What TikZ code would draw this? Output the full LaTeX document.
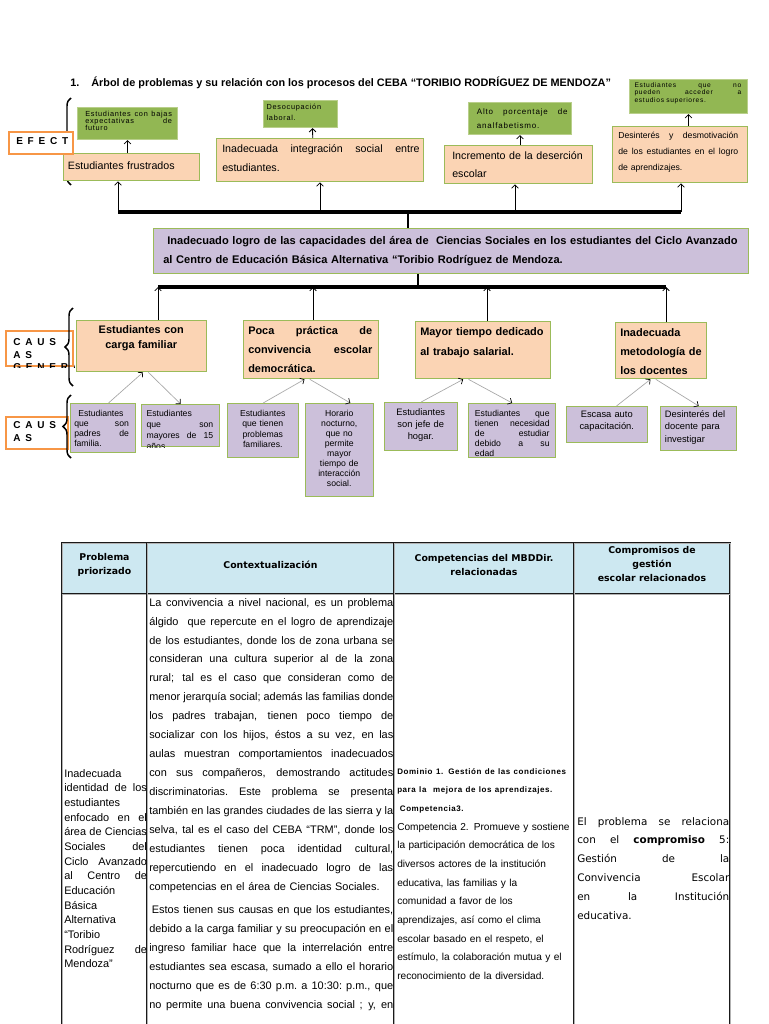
\documentclass[tikz,border=0pt]{standalone}
\usepackage{fontspec}
\setmainfont{Liberation Sans}
\newfontfamily\dvs{DejaVu Sans}
\newfontfamily\spc[LetterSpace=10]{Liberation Sans}
\newfontfamily\spcb[LetterSpace=7]{Liberation Sans}
\newfontfamily\lbs[LetterSpace=48]{Liberation Sans}
\usetikzlibrary{arrows.meta,decorations.pathreplacing,calc}

\definecolor{effill}{RGB}{251,212,180}
\definecolor{grnfill}{RGB}{146,183,83}
\definecolor{boxline}{RGB}{155,187,89}
\definecolor{purfill}{RGB}{204,192,218}
\definecolor{lblline}{RGB}{247,150,70}
\definecolor{hdfill}{RGB}{205,232,241}

\newdimen\jlw
\newcommand{\fs}[2]{\fontsize{#1}{#2}\selectfont}
\newcommand{\jl}[1]{\leavevmode\hbox to\jlw{\spaceskip=.28em plus 1fil\xspaceskip=.28em plus 1fil\relax #1}}
% style, name, x1, y1, x2, y2, text options, text
\newcommand{\probbox}[8]{%
  \pgfmathsetmacro{\tbW}{(#5-#3)*0.75}%
  \pgfmathsetmacro{\tbH}{(#6-#4)*0.75}%
  \pgfmathsetmacro{\tbT}{(#5-#3)*0.75-5}%
  \node[#1, anchor=north west, minimum width=\tbW pt, minimum height=\tbH pt, inner sep=0pt] (#2) at (#3,#4) {};
  \begin{scope}
    \clip (#2.north west) rectangle (#2.south east);
    \node[anchor=north west, inner sep=0pt, tw=\tbT pt, align=left, #7] (#2-txt)
      at ([shift={(2.5pt,-2pt)}]#2.north west) {\noindent #8};
  \end{scope}}

\tikzset{
  tw/.style={text width=#1, /utils/exec={\global\jlw=\dimexpr #1\relax}},
  effbox/.style={fill=effill, draw=boxline, line width=1pt},
  grnbox/.style={fill=grnfill, draw=boxline!70!white, line width=0.8pt},
  purbox/.style={fill=purfill, draw=boxline, line width=1pt},
  lblbox/.style={fill=white, draw=lblline, line width=1.5pt},
  upar/.style={-{Straight Barb[length=2.5pt,width=5pt]}, line width=0.6pt},
  subar/.style={-{Straight Barb[length=2.5pt,width=5pt,color=black]}, draw=gray!70, line width=0.5pt},
  bar/.style={line width=3pt},
  brc/.style={decorate, decoration={brace, amplitude=6pt}, line width=1.1pt},
  tline/.style={draw=black!90, double=gray!60, line width=0.6pt, double distance=0.7pt},
  hdtxt/.style={font={\dvs\bfseries\fs{7}{10.5}}, align=center, inner sep=0pt},
  coltxt/.style={anchor=north west, inner sep=0pt, align=left}
}

\begin{document}
\begin{tikzpicture}[x=0.75pt, y=-0.75pt]
  \useasboundingbox (0,0) rectangle (768,1024);
  \fill[white] (0,0) rectangle (768,1024);

  \node[anchor=base west, inner sep=0pt, font={\bfseries\fs{8.15}{10}}] (title) at (70,87)
    {1.\hspace{9pt}Árbol de problemas y su relación con los procesos del CEBA “TORIBIO RODRÍGUEZ DE MENDOZA”};

  % efectos
  \draw[brc] (71,185) -- (71,98);
  \probbox{grnbox}{g1}{77}{107}{177}{139}{font={\spc\fs{5.5}{5.3}}, yshift=-0.75pt, xshift=3.5pt, tw=65pt}
    {\jl{Estudiantes con bajas}\\ \jl{expectativas de}\\ futuro}
  \probbox{effbox}{e1}{63}{153}{199}{180}{font={\fs{8}{10}}, yshift=-4.2pt, xshift=1pt}{Estudiantes frustrados}
  \probbox{grnbox}{g2}{263}{100}{337}{127}{font={\spc\fs{5.5}{8.25}}, yshift=-0.75pt}{Desocupación\\ laboral.}
  \probbox{effbox}{e2}{216}{138}{423}{181}{font={\fs{8}{14.25}}, yshift=-2.7pt, xshift=2pt, tw=148pt}
    {\jl{Inadecuada integración social entre}\\ estudiantes.}
  \probbox{grnbox}{g3}{468}{102}{571}{134}{font={\spc\fs{6}{10.5}}, yshift=-2.6pt, xshift=4pt, tw=68pt}
    {\jl{Alto porcentaje de}\\ analfabetismo.}
  \probbox{effbox}{e3}{444}{145}{592}{183}{font={\fs{8}{13.5}}, yshift=-2.7pt, xshift=3.5pt}{Incremento de la deserción\\ escolar}
  \probbox{grnbox}{g4}{629}{79}{747}{113}{font={\spc\fs{5}{5.6}}, yshift=-0.4pt, xshift=1.5pt, tw=80pt}
    {\jl{Estudiantes que no}\\ \jl{pueden acceder a}\\ estudios superiores.}
  \probbox{effbox}{e4}{612}{126}{747}{182}{font={\fs{6.5}{12}}, yshift=-2.2pt, xshift=2pt, tw=90pt}
    {\jl{Desinterés y desmotivación}\\ \jl{de los estudiantes en el logro}\\ de aprendizajes.}
  \probbox{lblbox}{lef}{8}{131}{72}{153}{font={\lbs\bfseries\fs{7.5}{9}}, yshift=-3pt, xshift=3.5pt}{EFECT}

  \draw[upar] (g1.south |- e1.north) -- (g1.south);
  \draw[upar] ([xshift=-5.6pt]e2.north) -- ([xshift=9pt]g2.south);
  \draw[upar] (g3.south |- e3.north) -- (g3.south);
  \draw[upar] (g4.south |- e4.north) -- (g4.south);

  \coordinate (tb1) at (118,212);
  \coordinate (tb2) at (320,212);
  \coordinate (tb3) at (515,212);
  \coordinate (tb4) at (681,212);
  \coordinate (tbm) at (408,212);
  \draw[bar] (tb1) -- (tb4);
  \foreach \i in {1,...,4} \draw[upar] (tb\i) -- (tb\i |- e\i.south);

  % problema central
  \probbox{purbox}{core}{153}{228}{748}{273}{font={\bfseries\fs{8.3}{14.25}}, yshift=-3.9pt, xshift=5pt, tw=445pt}
    {\mbox{\hspace*{3pt}Inadecuado logro de las capacidades del área de\ \ Ciencias Sociales en los estudiantes del Ciclo Avanzado}\\
     al Centro de Educación Básica Alternativa “Toribio Rodríguez de Mendoza.}
  \draw[line width=0.8pt] (tbm) -- (tbm |- core.north);

  % causas
  \probbox{effbox}{c1}{76}{320}{206}{371}{font={\bfseries\fs{8.2}{11.25}}, align=center, yshift=-1.75pt}{Estudiantes con\\ carga familiar}
  \probbox{effbox}{c2}{243}{320}{378}{378}{font={\bfseries\fs{8.2}{14.25}}, yshift=-2.5pt, xshift=1.25pt, tw=93pt}
    {\jl{Poca práctica de}\\ \jl{convivencia escolar}\\ democrática.}
  \probbox{effbox}{c3}{415}{321}{550}{378}{font={\bfseries\fs{8.2}{15}}, yshift=-2.5pt, xshift=1.25pt}{Mayor tiempo dedicado\\ al trabajo salarial.}
  \probbox{effbox}{c4}{615}{322}{706}{378}{font={\bfseries\fs{8.2}{14.25}}, yshift=-2.5pt, xshift=1.25pt}{Inadecuada\\ metodología de\\ los docentes}

  \coordinate (lb1) at (158,287);
  \coordinate (lb2) at (313,287);
  \coordinate (lb3) at (487,287);
  \coordinate (lb4) at (666,287);
  \coordinate (lbm) at (418,287);
  \draw[bar] (lb1) -- (lb4);
  \draw[line width=0.8pt] (lbm |- core.south) -- (lbm);
  \foreach \i in {1,...,4} \draw[upar] (lb\i |- c\i.north) -- (lb\i);

  \probbox{lblbox}{lca1}{5}{330}{72}{365}{font={\lbs\bfseries\fs{7.5}{9.5}}, yshift=-4.3pt, xshift=3.5pt}{CAUS\\ AS\\ GENERA}
  \draw[brc] (73,386) -- (73,308);

  % causas especificas
  \probbox{purbox}{s1}{70}{403}{135}{452}{font={\fs{6.5}{7.5}}, yshift=-3pt, xshift=0.5pt, tw=41pt}
    {\hspace*{3pt}Estudiantes\\ \jl{que son}\\ \jl{padres de}\\ familia.}
  \probbox{purbox}{s2}{141}{404}{219}{446}{font={\fs{6.5}{8.25}}, yshift=-2.3pt, xshift=1.5pt, tw=50pt}
    {Estudiantes\\ \jl{que son}\\ \jl{mayores de 15}\\ años}
  \probbox{purbox}{s3}{227}{403}{298}{457}{font={\fs{6.5}{7.8}}, align=center, yshift=-3pt}{Estudiantes\\ que tienen\\ problemas\\ familiares.}
  \probbox{purbox}{s4}{305}{403}{373}{496}{font={\fs{6.5}{7.5}}, align=center, yshift=-3pt}
    {Horario\\ nocturno,\\ que no\\ permite\\ mayor\\ tiempo de\\ interacción\\ social.}
  \probbox{purbox}{s5}{384}{402}{457}{450}{font={\fs{7}{9}}, align=center, yshift=-2.6pt}{Estudiantes\\ son jefe de\\ hogar.}
  \probbox{purbox}{s6}{468}{403}{555}{457}{font={\fs{6.5}{7.5}}, yshift=-3pt, xshift=2.5pt, tw=56pt}
    {\jl{Estudiantes que}\\ \jl{tienen necesidad}\\ \jl{de estudiar}\\ \jl{debido a su}\\ edad}
  \probbox{purbox}{s7}{566}{406}{647}{442}{font={\fs{7}{9}}, align=center, yshift=-1.9pt}{Escasa auto\\ capacitación.}
  \probbox{purbox}{s8}{660}{406}{736}{450}{font={\fs{7}{9.4}}, yshift=-1.2pt, xshift=1pt}{Desinterés del\\ docente para\\ investigar}

  \draw[subar] ([xshift=4pt]s1.north) -- ([xshift=1pt]c1.south);
  \draw[subar] ([xshift=5pt]c1.south) -- (s2.north);
  \draw[subar] (s3.north) -- ([xshift=-5pt]c2.south);
  \draw[subar] ([xshift=-1pt]c2.south) -- ([xshift=8pt]s4.north);
  \draw[subar] (s5.north) -- ([xshift=-15pt]c3.south);
  \draw[subar] ([xshift=-11pt]c3.south) -- (s6.north);
  \draw[subar] ([xshift=7pt]s7.north) -- ([xshift=-8pt]c4.south);
  \draw[subar] ([xshift=-4pt]c4.south) -- (s8.north);

  \probbox{lblbox}{lca2}{5}{416}{67}{448}{font={\lbs\bfseries\fs{7.5}{9.75}}, yshift=-2.3pt, xshift=3.5pt}{CAUS\\ AS}
  \draw[brc] (71,458) -- (71,395);

  % tabla
  \fill[hdfill] (62,543) rectangle (730,594);
  \draw[tline] (62,1040) -- (62,543) -- (730,543) -- (730,1040);
  \draw[tline] (62,594) -- (730,594);
  \foreach \x in {147,394,574} \draw[tline] (\x,543) -- (\x,1040);

  \node[hdtxt] (h1) at (104.5,565) {Problema\\priorizado};
  \node[hdtxt] (h2) at (270.5,565) {Contextualización};
  \node[hdtxt] (h3) at (484,565) {Competencias del MBDDir.\\relacionadas};
  \node[hdtxt] (h4) at (652,564) {Compromisos de\\gestión\\escolar relacionados};

  \node[coltxt, tw=62pt, font={\fs{8.2}{11}}] (b1) at (64,769)
    {\noindent Inadecuada\\ \jl{identidad de los}\\ estudiantes\\ \jl{enfocado en el}\\ \jl{área de Ciencias}\\
     \jl{Sociales del}\\ \jl{Ciclo Avanzado}\\ \jl{al Centro de}\\ Educación\\ Básica\\ Alternativa\\
     “Toribio\\ \jl{Rodríguez de}\\ Mendoza”};

  \node[coltxt, tw=183pt, font={\fs{8.2}{14.2}}] (b2) at (149,598)
    {\noindent\jl{La convivencia a nivel nacional, es un problema}\\
     \jl{álgido\ \ que repercute en el logro de aprendizaje}\\
     \jl{de los estudiantes, donde los de zona urbana se}\\
     \jl{consideran una cultura superior al de la zona}\\
     \jl{rural; tal es el caso que consideran como de}\\
     \jl{menor jerarquía social; además las familias donde}\\
     \jl{los padres trabajan, tienen poco tiempo de}\\
     \jl{socializar con los hijos, éstos a su vez, en las}\\
     \jl{aulas muestran comportamientos inadecuados}\\
     \jl{con sus compañeros, demostrando actitudes}\\
     \jl{discriminatorias. Este problema se presenta}\\
     \jl{también en las grandes ciudades de las sierra y la}\\
     \jl{selva, tal es el caso del CEBA “TRM”, donde los}\\
     \jl{estudiantes tienen poca identidad cultural,}\\
     \jl{repercutiendo en el inadecuado logro de las}\\
     competencias en el área de Ciencias Sociales.\\[3.5pt]
     \jl{\hspace*{2pt}Estos tienen sus causas en que los estudiantes,}\\
     \jl{debido a la carga familiar y su preocupación en el}\\
     \jl{ingreso familiar hace que la interrelación entre}\\
     \jl{estudiantes sea escasa, sumado a ello el horario}\\
     \jl{nocturno que es de 6:30 p.m. a 10:30: p.m., que}\\
     \jl{no permite una buena convivencia social ; y, en}};

  \node[coltxt, tw=135pt, font={\fs{7.6}{14}}] (b3) at (397,768)
    {{\spcb\bfseries\fs{6}{14}Dominio 1. Gestión de las condiciones\\
      para la\ \ mejora de los aprendizajes.\\
      \hspace*{2pt}Competencia3.}\\
     Competencia 2. Promueve y sostiene\\
     la participación democrática de los\\
     diversos actores de la institución\\
     educativa, las familias y la\\
     comunidad a favor de los\\
     aprendizajes, así como el clima\\
     escolar basado en el respeto, el\\
     estímulo, la colaboración mutua y el\\
     reconocimiento de la diversidad.};

  \node[coltxt, tw=114pt, font={\dvs\fs{7.8}{14.1}}] (b4) at (577,817)
    {\noindent\jl{El problema se relaciona}\\ \jl{con el \textbf{compromiso} 5:}\\ \jl{Gestión de la}\\
     \jl{Convivencia Escolar}\\ \jl{en la Institución}\\ educativa.};
\end{tikzpicture}
\end{document}
